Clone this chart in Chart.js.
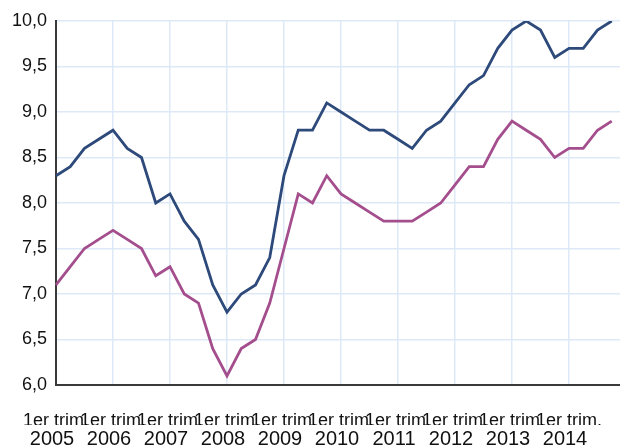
<!DOCTYPE html>
<html>
<head>
<meta charset="utf-8">
<script src="https://cdn.jsdelivr.net/npm/chart.js@4/dist/chart.umd.min.js"></script>
<style>
  html, body { margin: 0; padding: 0; background: #fff; overflow: hidden; }
  #wrap { width: 620px; height: 447px; overflow: hidden; position: relative; }
  canvas { display: block; }
</style>
</head>
<body>
<div id="wrap"><canvas id="c" width="640" height="447"></canvas></div>
<script>
// Data (quarterly, 2005 Q1 .. 2014 Q4)
const years = ["2005","2006","2007","2008","2009","2010","2011","2012","2013","2014"];
const quarterNames = ["1er trim.", "2e trim.", "3e trim.", "4e trim."];
const seriesBlue = [8.3, 8.4, 8.6, 8.7, 8.8, 8.6, 8.5, 8.0, 8.1, 7.8,
                    7.6, 7.1, 6.8, 7.0, 7.1, 7.4, 8.3, 8.8, 8.8, 9.1,
                    9.0, 8.9, 8.8, 8.8, 8.7, 8.6, 8.8, 8.9, 9.1, 9.3,
                    9.4, 9.7, 9.9, 10.0, 9.9, 9.6, 9.7, 9.7, 9.9, 10.0];
const seriesPurple = [7.1, 7.3, 7.5, 7.6, 7.7, 7.6, 7.5, 7.2, 7.3, 7.0,
                      6.9, 6.4, 6.1, 6.4, 6.5, 6.9, 7.5, 8.1, 8.0, 8.3,
                      8.1, 8.0, 7.9, 7.8, 7.8, 7.8, 7.9, 8.0, 8.2, 8.4,
                      8.4, 8.7, 8.9, 8.8, 8.7, 8.5, 8.6, 8.6, 8.8, 8.9];
const yTicks = [6.0, 6.5, 7.0, 7.5, 8.0, 8.5, 9.0, 9.5, 10.0];

// categories: every quarter, plus one trailing slot (axis continues past the last point)
const categories = [];
years.forEach(y => quarterNames.forEach(q => categories.push(q + " " + y)));
categories.push("");
const nQ = years.length * quarterNames.length;

const FONT = "'Liberation Sans', Arial, sans-serif";

new Chart(document.getElementById('c'), {
  type: 'line',
  data: {
    labels: categories,
    datasets: [
      { data: seriesBlue, borderColor: '#2d4a7b', borderWidth: 2.8, pointRadius: 0, tension: 0, fill: false },
      { data: seriesPurple, borderColor: '#a44e8d', borderWidth: 2.8, pointRadius: 0, tension: 0, fill: false }
    ]
  },
  options: {
    responsive: false,
    devicePixelRatio: 1,
    animation: false,
    events: [],
    layout: { padding: { top: 21, right: 14, bottom: 0, left: 0 } },
    plugins: { legend: { display: false }, tooltip: { enabled: false }, title: { display: false } },
    scales: {
      x: {
        type: 'category', offset: false, weight: 0,
        grid: { color: '#dde9f6', lineWidth: 1.5, drawTicks: false },
        border: { color: '#3a3a3a', width: 2 },
        ticks: {
          autoSkip: false, maxRotation: 0, minRotation: 0, padding: 22,
          color: '#111', font: { family: FONT, size: 18, lineHeight: '27.6px' },
          callback: function (v, i) {
            if (i % 4 !== 0 || i >= nQ) return null;
            return quarterNames[i % 4];
          }
        },
        afterFit: s => { s.height = 40; }
      },
      x2: {
        type: 'category', position: 'bottom', offset: false, weight: 1,
        grid: { display: false, drawTicks: false },
        border: { display: false },
        ticks: {
          autoSkip: false, maxRotation: 0, minRotation: 0, padding: 2, labelOffset: -4,
          color: '#111', font: { family: FONT, size: 20 },
          callback: function (v, i) {
            if (i % 4 !== 0 || i >= nQ) return null;
            return years[Math.floor(i / 4)];
          }
        },
        afterFit: s => { s.height = 22; }
      },
      y: {
        min: yTicks[0], max: yTicks[yTicks.length - 1],
        grid: { color: '#dde9f6', lineWidth: 1.5, drawTicks: false },
        border: { color: '#3a3a3a', width: 2 },
        afterBuildTicks: s => { s.ticks = yTicks.map(v => ({ value: v })); },
        ticks: {
          padding: 9, color: '#111', font: { family: FONT, size: 18 },
          callback: v => v.toFixed(1).replace('.', ',')
        },
        afterFit: s => { s.width = 56; }
      }
    }
  }
});
</script>
</body>
</html>
